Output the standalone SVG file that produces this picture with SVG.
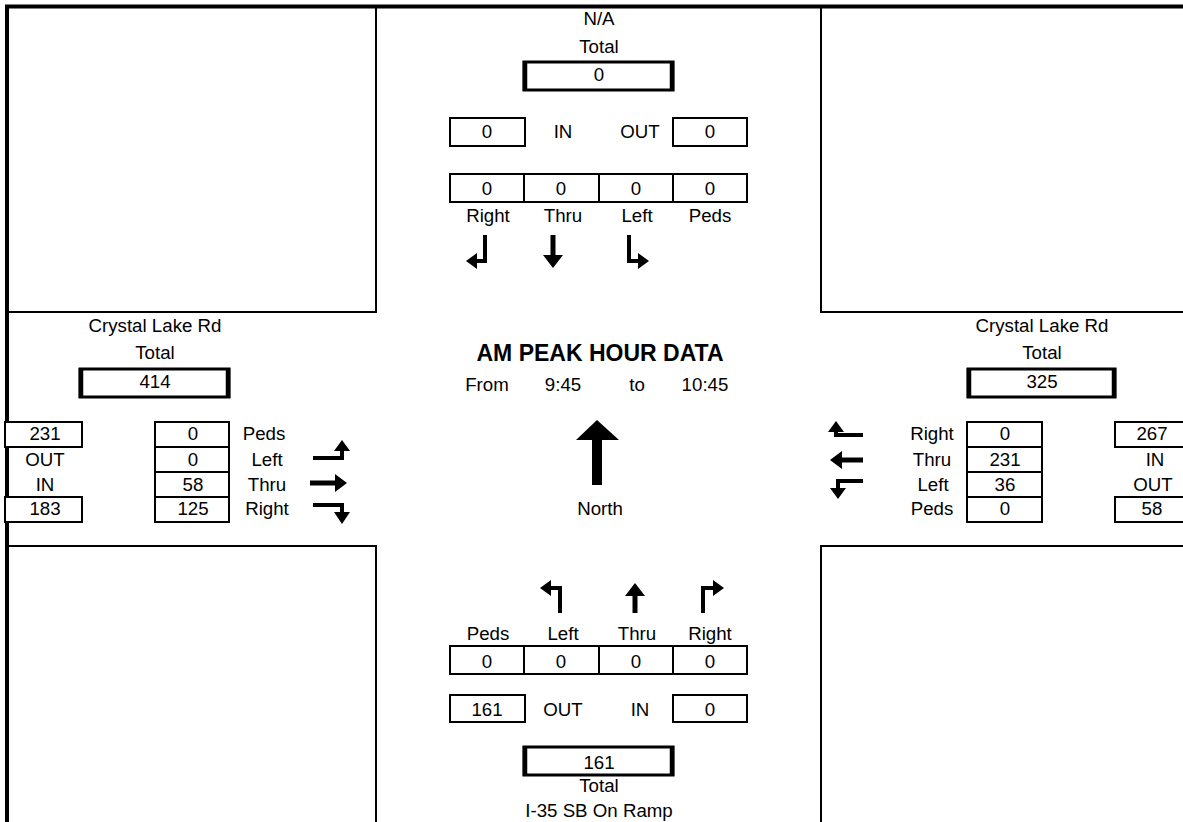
<svg xmlns="http://www.w3.org/2000/svg" width="1183" height="822" viewBox="0 0 1183 822">
<style>
text{font-family:"Liberation Sans",Arial,sans-serif;font-size:18.7px;fill:#000;text-anchor:middle}
.b{font-weight:bold;font-size:23px}
.q{fill:none;stroke:#000;stroke-width:2}
.bx{fill:#fff;stroke:#000;stroke-width:2}
.tb{fill:#fff;stroke:#000;stroke-width:3}
.tl{stroke:#000;stroke-width:4.5}
.ar{fill:none;stroke:#000;stroke-width:4}
.at{fill:none;stroke:#000;stroke-width:5}
.hd{fill:#000}
</style>
<rect width="1183" height="822" fill="#fff"/>
<g id="frame">
<line x1="5" y1="6.5" x2="1183" y2="6.5" stroke="#000" stroke-width="4"/>
<line x1="7" y1="5" x2="7" y2="822" stroke="#000" stroke-width="4"/>
<polyline class="q" points="376,8 376,312 9,312"/>
<polyline class="q" points="9,546 376,546 376,822"/>
<polyline class="q" points="821,8 821,312 1183,312"/>
<polyline class="q" points="1183,546 821,546 821,822"/>
</g>
<g id="north-approach">
<text x="599" y="25">N/A</text>
<text x="599" y="53">Total</text>
<rect class="tb" x="524" y="62" width="149" height="28"/>
<line class="tl" x1="525" y1="61" x2="525" y2="91"/><line class="tl" x1="672" y1="61" x2="672" y2="91"/>
<text x="599" y="81">0</text>
<rect class="bx" x="450" y="118" width="75" height="28"/>
<text x="487" y="138">0</text>
<text x="563" y="138">IN</text>
<text x="640" y="138">OUT</text>
<rect class="bx" x="673" y="118" width="74" height="28"/>
<text x="710" y="138">0</text>
<rect class="bx" x="450" y="174" width="74" height="28"/>
<rect class="bx" x="524" y="174" width="75" height="28"/>
<rect class="bx" x="599" y="174" width="74" height="28"/>
<rect class="bx" x="673" y="174" width="74" height="28"/>
<text x="487" y="195">0</text><text x="561" y="195">0</text><text x="636" y="195">0</text><text x="710" y="195">0</text>
<text x="488" y="222">Right</text><text x="563" y="222">Thru</text><text x="637" y="222">Left</text><text x="710" y="222">Peds</text>
<path class="ar" d="M485,235 V261 H475"/><polygon class="hd" points="466,261 477,253 477,269"/>
<path class="at" d="M553,235 V257"/><polygon class="hd" points="543,255 563,255 553,268"/>
<path class="ar" d="M629,235 V261 H640"/><polygon class="hd" points="649,261 638,253 638,269"/>
</g>
<g id="center">
<text class="b" x="600" y="361">AM PEAK HOUR DATA</text>
<text x="487" y="391">From</text><text x="563" y="391">9:45</text><text x="637" y="391">to</text><text x="705" y="391">10:45</text>
<polygon class="hd" points="597,420 576,440 619,440"/>
<rect x="592" y="439" width="10" height="46" fill="#000"/>
<text x="600" y="515">North</text>
</g>
<g id="west-approach">
<text x="155" y="332">Crystal Lake Rd</text>
<text x="155" y="359">Total</text>
<rect class="tb" x="80" y="369" width="149" height="28"/>
<line class="tl" x1="81" y1="368" x2="81" y2="398"/><line class="tl" x1="228" y1="368" x2="228" y2="398"/>
<text x="155" y="388">414</text>
<rect class="bx" x="5" y="422" width="77" height="25"/>
<text x="45" y="440">231</text>
<text x="45" y="466">OUT</text>
<text x="45" y="491">IN</text>
<rect class="bx" x="5" y="497" width="77" height="25"/>
<text x="45" y="515">183</text>
<rect class="bx" x="155" y="422" width="74" height="25"/>
<rect class="bx" x="155" y="447" width="74" height="25"/>
<rect class="bx" x="155" y="472" width="74" height="25"/>
<rect class="bx" x="155" y="497" width="74" height="25"/>
<text x="193" y="440">0</text><text x="193" y="466">0</text><text x="193" y="491">58</text><text x="193" y="515">125</text>
<text x="264" y="440">Peds</text><text x="267" y="466">Left</text><text x="267" y="491">Thru</text><text x="267" y="515">Right</text>
<path class="ar" d="M313,458 H342 V450"/><polygon class="hd" points="342,440 334,451 350,451"/>
<path class="at" d="M310,483 H336"/><polygon class="hd" points="347,483 335,474 335,492"/>
<path class="ar" d="M313,505 H342 V513"/><polygon class="hd" points="342,524 334,512 350,512"/>
</g>
<g id="east-approach">
<text x="1042" y="332">Crystal Lake Rd</text>
<text x="1042" y="359">Total</text>
<rect class="tb" x="968" y="369" width="147" height="28"/>
<line class="tl" x1="969" y1="368" x2="969" y2="398"/><line class="tl" x1="1114" y1="368" x2="1114" y2="398"/>
<text x="1042" y="388">325</text>
<text x="932" y="440">Right</text><text x="932" y="466">Thru</text><text x="933" y="491">Left</text><text x="932" y="515">Peds</text>
<rect class="bx" x="967" y="422" width="75" height="25"/>
<rect class="bx" x="967" y="447" width="75" height="25"/>
<rect class="bx" x="967" y="472" width="75" height="25"/>
<rect class="bx" x="967" y="497" width="75" height="25"/>
<text x="1005" y="440">0</text><text x="1005" y="466">231</text><text x="1005" y="491">36</text><text x="1005" y="515">0</text>
<rect class="bx" x="1115" y="422" width="70" height="25"/>
<text x="1152" y="440">267</text>
<text x="1155" y="466">IN</text>
<text x="1153" y="491">OUT</text>
<rect class="bx" x="1115" y="497" width="70" height="25"/>
<text x="1152" y="515">58</text>
<path class="ar" d="M863,435 H836 V431"/><polygon class="hd" points="836,421 828,432 844,432"/>
<path class="at" d="M863,460 H841"/><polygon class="hd" points="830,460 842,451 842,469"/>
<path class="ar" d="M863,481 H838 V489"/><polygon class="hd" points="838,499 830,488 846,488"/>
</g>
<g id="south-approach">
<path class="ar" d="M560,613 V588 H550"/><polygon class="hd" points="540,588 551,580 551,596"/>
<path class="at" d="M635,613 V594"/><polygon class="hd" points="635,583 625,596 645,596"/>
<path class="ar" d="M703,613 V588 H714"/><polygon class="hd" points="724,588 713,580 713,596"/>
<text x="488" y="640">Peds</text><text x="563" y="640">Left</text><text x="637" y="640">Thru</text><text x="710" y="640">Right</text>
<rect class="bx" x="450" y="646" width="74" height="28"/>
<rect class="bx" x="524" y="646" width="75" height="28"/>
<rect class="bx" x="599" y="646" width="74" height="28"/>
<rect class="bx" x="673" y="646" width="74" height="28"/>
<text x="487" y="668">0</text><text x="561" y="668">0</text><text x="636" y="668">0</text><text x="710" y="668">0</text>
<rect class="bx" x="450" y="695" width="75" height="27"/>
<text x="487" y="716">161</text>
<text x="563" y="716">OUT</text>
<text x="640" y="716">IN</text>
<rect class="bx" x="673" y="695" width="74" height="27"/>
<text x="710" y="716">0</text>
<rect class="tb" x="524" y="747" width="149" height="28"/>
<line class="tl" x1="525" y1="746" x2="525" y2="776"/><line class="tl" x1="672" y1="746" x2="672" y2="776"/>
<text x="599" y="769">161</text>
<text x="599" y="792">Total</text>
<text x="599" y="817">I-35 SB On Ramp</text>
</g>
</svg>
